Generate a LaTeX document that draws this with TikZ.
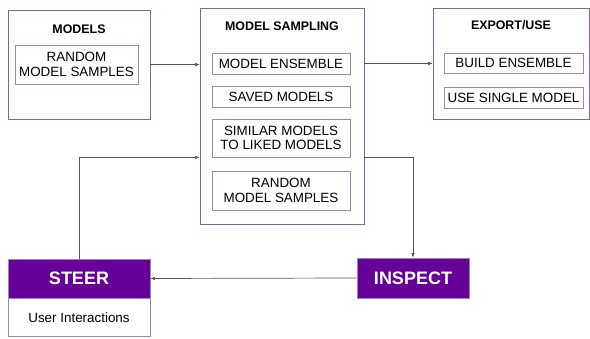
\documentclass[tikz,border=0pt]{standalone}
\usepackage{fontspec}
\setmainfont{Liberation Sans}
\usetikzlibrary{arrows.meta}
\definecolor{boxline}{HTML}{8064A2}
\definecolor{innerline}{HTML}{9C86BC}
\definecolor{deeppurple}{HTML}{660099}
\definecolor{linkgray}{HTML}{555555}
\tikzset{
  x=1pt, y=-1pt,
  panel/.style={draw=boxline, line width=0.8pt, fill=white, inner sep=0pt},
  item/.style={draw=innerline, line width=0.8pt, inner sep=0pt, align=center,
    font=\fontsize{13.4}{14.5}\selectfont},
  heading/.style={font=\bfseries\fontsize{12.4}{14}\selectfont},
  action/.style={fill=deeppurple, draw=innerline, line width=0.6pt, text=white,
    font=\bfseries\fontsize{18}{20}\selectfont, inner sep=0pt},
  link/.style={draw=linkgray, line width=0.7pt, -{Latex[length=4.5pt,width=3.5pt]}}
}
\begin{document}
\begin{tikzpicture}
\useasboundingbox (0,0) rectangle (590,339);

% Models panel
\node[panel, minimum width=142pt, minimum height=109pt] (models) at (79,64.5) {};
\node[heading] (modelsT) at (79,29) {MODELS};
\node[item, minimum width=123pt, minimum height=39pt] (modelsR) at (76.5,64.5) {RANDOM\\MODEL SAMPLES};

% Model sampling panel
\node[panel, minimum width=164pt, minimum height=216pt] (ms) at (282,116) {};
\node[heading] (msT) at (282,26) {MODEL SAMPLING};
\node[item, minimum width=138pt, minimum height=21pt] (ens) at (281,63.5) {MODEL ENSEMBLE};
\node[item, minimum width=138pt, minimum height=21pt] (saved) at (281,96.5) {SAVED MODELS};
\node[item, minimum width=138pt, minimum height=38pt] (sim) at (281,138) {SIMILAR MODELS\\TO LIKED MODELS};
\node[item, minimum width=138pt, minimum height=39pt] (rnd) at (281,190.5) {RANDOM\\MODEL SAMPLES};

% Export/use panel
\node[panel, minimum width=156pt, minimum height=111pt] (export) at (511,63.5) {};
\node[heading] (exportT) at (511,25) {EXPORT/USE};
\node[item, minimum width=139pt, minimum height=20pt] (build) at (513.5,63) {BUILD ENSEMBLE};
\node[item, minimum width=139pt, minimum height=21pt] (single) at (513.5,97.5) {USE SINGLE MODEL};

% Inspect and steer
\node[action, minimum width=112pt, minimum height=40pt] (inspect) at (413,278) {INSPECT};
\node[action, minimum width=142pt, minimum height=39pt] (steer) at (79,278.5) {STEER};
\node[draw=innerline, line width=0.6pt, minimum width=142pt, minimum height=38pt, inner sep=0pt,
  font=\fontsize{13.4}{15}\selectfont] (user) at (79,317.5) {User Interactions};

% Connectors
\draw[link] (models.east |- modelsR) -- (ms.west |- modelsR);
\draw[link] (ms.east |- ens) -- (export.west |- ens);
\coordinate (turn) at (inspect.north |- sim.south);
\draw[link] (ms.east |- sim.south) -- (turn) -- (inspect.north);
\draw[link] (inspect.west) -- (steer.east);
\draw[link] (steer.north) |- (ms.west |- sim.south);
\end{tikzpicture}
\end{document}
